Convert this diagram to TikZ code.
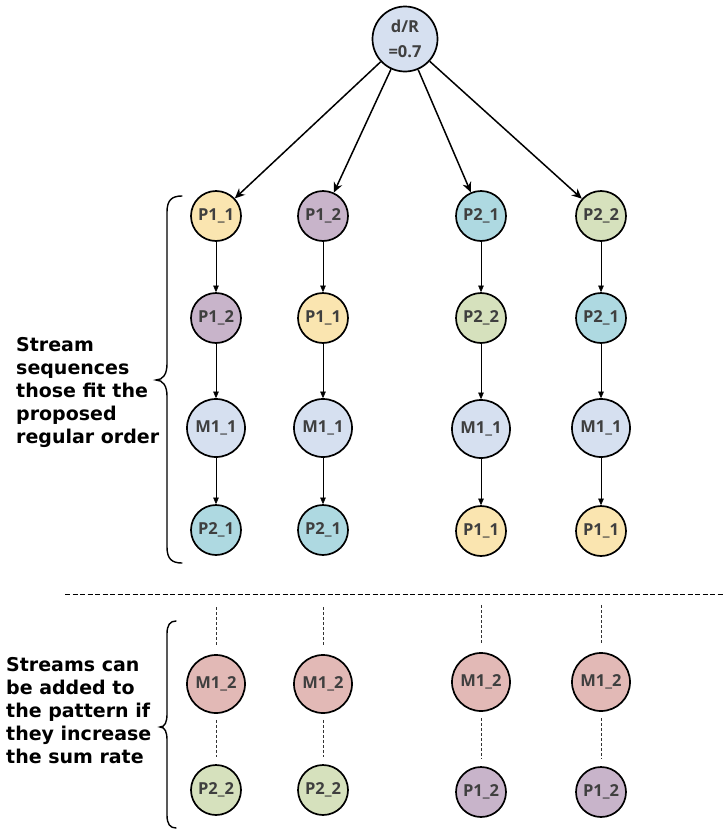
\documentclass[tikz,border=0pt]{standalone}
\usepackage{fontspec}
\setmainfont{DejaVu Sans}
\newfontfamily\nodefont{Open Sans}
\usetikzlibrary{arrows.meta}
\definecolor{cyel}{HTML}{FAE5B0}
\definecolor{cpur}{HTML}{C8B4CA}
\definecolor{cblu}{HTML}{AED9E1}
\definecolor{cgrn}{HTML}{D6E1BD}
\definecolor{clbl}{HTML}{D6E0F0}
\definecolor{cpnk}{HTML}{E2B9B6}
\definecolor{ctxt}{HTML}{3F3F3F}
\tikzset{
  cnode/.style={circle, draw=black, line width=1.7pt, inner sep=0pt, text=ctxt,
    font=\nodefont\bfseries\fontsize{16.5}{19}\selectfont},
  pnode/.style={cnode, minimum size=50pt},
  mnode/.style={cnode, minimum size=58pt},
  topnode/.style={cnode, minimum size=65pt, align=center, fill=clbl,
    font=\nodefont\bfseries\fontsize{16.5}{21}\selectfont},
  bigarrow/.style={-{Stealth[length=10pt,width=9pt]}, line width=1.5pt},
  smallarrow/.style={-{Triangle[length=6.5pt,width=5.5pt]}, line width=0.6pt},
  vdash/.style={line width=0.7pt, dash pattern=on 3pt off 2pt, draw=black!80},
  brace/.style={line width=1.4pt, line cap=round},
  lbl/.style={align=left, anchor=west, font=\bfseries\fontsize{19}{23}\selectfont, inner sep=0pt}
}
\begin{document}
\begin{tikzpicture}[x=1pt,y=-1pt]
\useasboundingbox (0,0) rectangle (725,830);
% top
\node[topnode] (top) at (405,39) {d/R\\[4pt]=0.7};
% columns
\def\xa{216}\def\xb{323}\def\xc{481}\def\xd{601}
% row 1
\node[pnode, fill=cyel] (a1) at (\xa,216) {P1\_1};
\node[pnode, fill=cpur] (b1) at (\xb,216) {P1\_2};
\node[pnode, fill=cblu] (c1) at (\xc,216) {P2\_1};
\node[pnode, fill=cgrn] (d1) at (\xd,216) {P2\_2};
% row 2
\node[pnode, fill=cpur] (a2) at (\xa,318) {P1\_2};
\node[pnode, fill=cyel] (b2) at (\xb,318) {P1\_1};
\node[pnode, fill=cgrn] (c2) at (\xc,318) {P2\_2};
\node[pnode, fill=cblu] (d2) at (\xd,318) {P2\_1};
% row 3
\node[mnode, fill=clbl] (a3) at (\xa,428) {M1\_1};
\node[mnode, fill=clbl] (b3) at (\xb,428) {M1\_1};
\node[mnode, fill=clbl] (c3) at (\xc,429) {M1\_1};
\node[mnode, fill=clbl] (d3) at (\xd,428) {M1\_1};
% row 4
\node[pnode, fill=cblu] (a4) at (\xa,530) {P2\_1};
\node[pnode, fill=cblu] (b4) at (\xb,530) {P2\_1};
\node[pnode, fill=cyel] (c4) at (\xc,531) {P1\_1};
\node[pnode, fill=cyel] (d4) at (\xd,531) {P1\_1};
% arrows from top
\foreach \n in {a1,b1,c1,d1} \draw[bigarrow] (top) -- (\n);
% vertical arrows
\foreach \c in {a,b,c,d}{
  \draw[smallarrow] (\c1) -- (\c2);
  \draw[smallarrow] (\c2) -- (\c3);
  \draw[smallarrow] (\c3) -- (\c4);
}
% separator
\coordinate (sepL) at (65,594);
\coordinate (sepR) at (725,594);
\draw[line width=1pt, dash pattern=on 5pt off 2.5pt] (sepL) -- (sepR);
% lower nodes
\node[mnode, fill=cpnk] (a5) at (\xa,684) {M1\_2};
\node[mnode, fill=cpnk] (b5) at (\xb,684) {M1\_2};
\node[mnode, fill=cpnk] (c5) at (\xc,682) {M1\_2};
\node[mnode, fill=cpnk] (d5) at (\xd,682) {M1\_2};
\node[pnode, fill=cgrn] (a6) at (\xa,790) {P2\_2};
\node[pnode, fill=cgrn] (b6) at (\xb,790) {P2\_2};
\node[pnode, fill=cpur] (c6) at (\xc,792) {P1\_2};
\node[pnode, fill=cpur] (d6) at (\xd,792) {P1\_2};
\foreach \c in {a,b,c,d}{
  \path (\c5.north) ++(0,-47) coordinate (\c top);
  \draw[vdash] (\c top) -- ([yshift=9pt]\c5.north);
  \draw[vdash] ([yshift=-6pt]\c5.south) -- ([yshift=7pt]\c6.north);
}
% braces
\draw[brace] (182,196) .. controls (172,196) and (167,200) .. (167,212) -- (167,364)
  .. controls (167,374) and (163,380) .. (156,380)
  .. controls (163,380) and (167,386) .. (167,396) -- (167,547)
  .. controls (167,559) and (172,563) .. (182,563);
\draw[brace] (176,621) .. controls (170,621) and (167,625) .. (167,634) -- (167,714)
  .. controls (167,722) and (165,727) .. (160,727)
  .. controls (165,727) and (167,732) .. (167,740) -- (167,815)
  .. controls (167,824) and (170,828) .. (176,828);
% labels
\node[lbl] (t1) at (16,392) {Stream\\sequences\\those fit the\\proposed\\regular order};
\node[lbl] (t2) at (6,711) {Streams can\\be added to\\the pattern if\\they increase\\the sum rate};
\end{tikzpicture}
\end{document}
